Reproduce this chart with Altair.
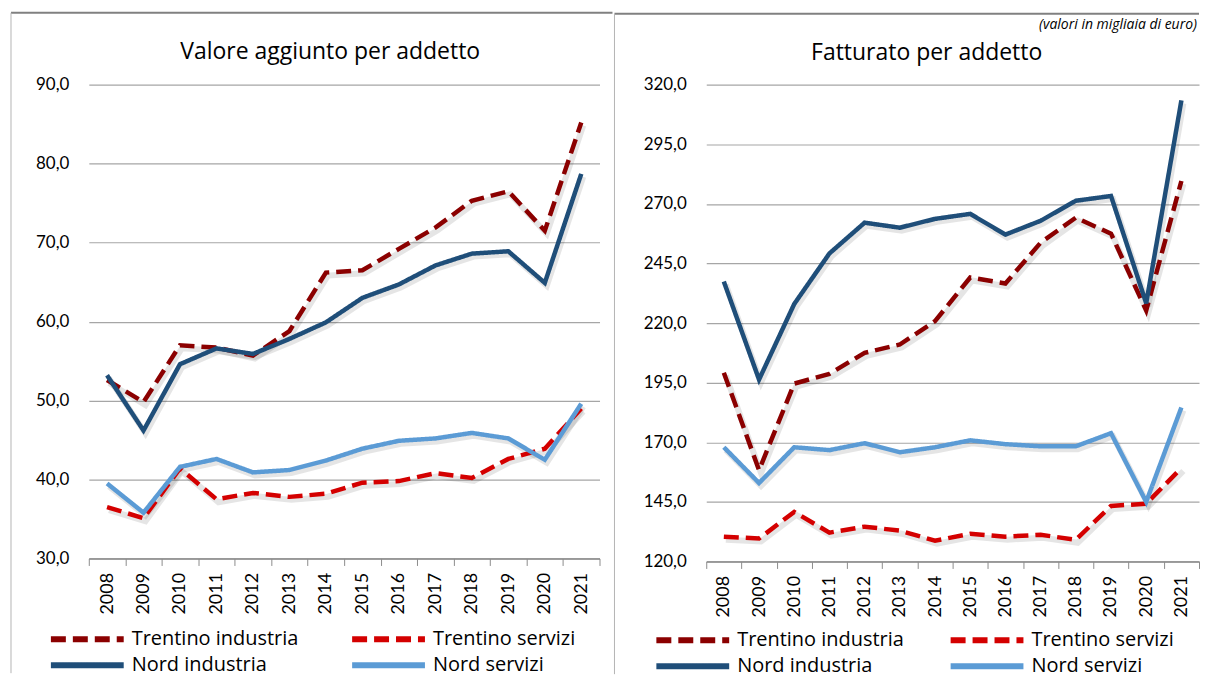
import altair as alt
import pandas as pd

years = [str(y) for y in range(2008, 2022)]
series_names = ["Trentino industria", "Trentino servizi", "Nord industria", "Nord servizi"]
series_colors = ["#8b0000", "#d40000", "#1f4e79", "#5b9bd5"]
series_dashes = [[15, 7], [15, 7], [1, 0], [1, 0]]

# Valore aggiunto per addetto (migliaia di euro)
va_trentino_industria = [52.6, 49.8, 57.0, 56.7, 55.7, 58.8, 66.2, 66.5, 69.2, 71.9, 75.3, 76.5, 71.5, 85.2]
va_trentino_servizi = [36.5, 35.1, 41.4, 37.5, 38.3, 37.8, 38.2, 39.6, 39.8, 40.8, 40.2, 42.6, 43.9, 49.0]
va_nord_industria = [53.2, 46.2, 54.6, 56.6, 55.9, 57.8, 59.9, 63.0, 64.7, 67.1, 68.6, 68.9, 64.9, 78.7]
va_nord_servizi = [39.5, 35.8, 41.6, 42.6, 40.9, 41.2, 42.4, 43.9, 44.9, 45.2, 45.9, 45.2, 42.5, 49.6]

# Fatturato per addetto (migliaia di euro)
f_trentino_industria = [199.2, 158.3, 194.6, 198.7, 207.5, 211.0, 220.8, 239.1, 236.6, 253.7, 264.2, 257.5, 225.3, 279.6]
f_trentino_servizi = [130.4, 129.6, 140.8, 132.1, 134.6, 132.9, 128.7, 131.6, 130.4, 131.2, 129.1, 143.3, 144.2, 159.2]
f_nord_industria = [237.4, 196.3, 228.0, 249.2, 262.1, 260.0, 263.7, 265.8, 257.1, 262.9, 271.3, 273.3, 228.3, 313.4]
f_nord_servizi = [167.9, 152.9, 167.9, 166.7, 169.6, 165.8, 167.9, 170.8, 169.2, 168.3, 168.3, 173.8, 145.0, 184.6]

va_ticks = [30, 40, 50, 60, 70, 80, 90]
f_ticks = [120, 145, 170, 195, 220, 245, 270, 295, 320]

AXIS_FONT = "Lato"
TEXT_FONT = "Open Sans"


def long_df(lists):
    rows = []
    for name, vals in zip(series_names, lists):
        for yr, v in zip(years, vals):
            rows.append({"year": yr, "series": name, "value": v})
    return pd.DataFrame(rows)


one = pd.DataFrame({"k": [0]})


def panel(df, title, ticks, width, height, frame, title_pos, legend_pos, note=None):
    x_enc = alt.X(
        "year:O",
        sort=years,
        scale=alt.Scale(type="band", paddingInner=0, paddingOuter=0),
        bandPosition=0.5,
        axis=alt.Axis(
            title=None, labelAngle=270, labelFontSize=18, labelFont=AXIS_FONT, labelColor="#000",
            tickBand="extent", tickSize=7, tickColor="#8c8c8c", domainColor="#8c8c8c",
            domainWidth=1.5, labelPadding=7, grid=False,
        ),
    )
    y_enc = alt.Y(
        "value:Q",
        scale=alt.Scale(domain=[ticks[0], ticks[-1]], nice=False, zero=False),
        axis=alt.Axis(
            title=None, values=ticks, domain=False, ticks=False, grid=True,
            gridColor="#a6a6a6", gridWidth=1.2, labelFontSize=17, labelFont=AXIS_FONT,
            labelColor="#000", labelPadding=20,
            labelExpr="replace(format(datum.value, '.1f'), '.', ',')",
        ),
    )
    leg = alt.Legend(
        title=None, orient="none", legendX=legend_pos[0], legendY=legend_pos[1],
        columns=2, direction="horizontal", symbolType="stroke", symbolSize=73 * 73,
        symbolStrokeWidth=6, labelFontSize=20, labelFont=TEXT_FONT, labelColor="#000",
        labelOffset=5, labelLimit=400, columnPadding=legend_pos[2], rowPadding=0,
        clipHeight=26, padding=0,
    )
    base = alt.Chart(df)
    shadow = base.mark_line(color="#000", opacity=0.10, strokeWidth=6, xOffset=2, yOffset=3).encode(
        x=x_enc, y=y_enc, detail="series:N"
    )
    lines = base.mark_line(strokeWidth=4.5).encode(
        x=x_enc,
        y=y_enc,
        color=alt.Color("series:N", sort=series_names,
                        scale=alt.Scale(domain=series_names, range=series_colors), legend=leg),
        strokeDash=alt.StrokeDash("series:N", sort=series_names,
                                  scale=alt.Scale(domain=series_names, range=series_dashes), legend=leg),
    )

    fx0, fx1, fy0, fy1, vx = frame
    top_rule = alt.Chart(one).mark_rule(color="#808080", strokeWidth=2).encode(
        x=alt.value(fx0), x2=alt.value(fx1), y=alt.value(fy0)
    )
    side_rule = alt.Chart(one).mark_rule(color="#b4b4b4", strokeWidth=1).encode(
        x=alt.value(vx), y=alt.value(fy0), y2=alt.value(fy1)
    )
    ttl = alt.Chart(one).mark_text(fontSize=23, font=TEXT_FONT, color="#000", baseline="alphabetic").encode(
        x=alt.value(title_pos[0]), y=alt.value(title_pos[1]), text=alt.value(title)
    )
    layers = [top_rule, side_rule, ttl, shadow, lines]
    if note:
        layers.append(
            alt.Chart(one).mark_text(fontSize=14, font=TEXT_FONT, fontStyle="italic", color="#000",
                                     align="right", baseline="top").encode(
                x=alt.value(note[1]), y=alt.value(note[2]), text=alt.value(note[0])
            )
        )
    return alt.layer(*layers).properties(width=width, height=height)


left = panel(
    long_df([va_trentino_industria, va_trentino_servizi, va_nord_industria, va_nord_servizi]),
    "Valore aggiunto per addetto", va_ticks, 512, 475,
    frame=(-78, 525, -72, 590, -78), title_pos=(242, -26), legend_pos=(-41, 543, 50),
)
right = panel(
    long_df([f_trentino_industria, f_trentino_servizi, f_nord_industria, f_nord_servizi]),
    "Fatturato per addetto", f_ticks, 494, 478,
    frame=(-92, 494, -71, 591, -92), title_pos=(221, -25), legend_pos=(-53, 544, 43),
    note=("(valori in migliaia di euro)", 492, -67),
)

chart = (
    alt.hconcat(left, right, spacing=0)
    .resolve_scale(color="independent", strokeDash="independent", y="independent", x="independent")
    .properties(padding={"left": 2, "top": 3, "right": 0, "bottom": 0})
    .configure_view(stroke=None)
)

chart.save("out.html", embed_options={"renderer": "svg", "actions": False})
